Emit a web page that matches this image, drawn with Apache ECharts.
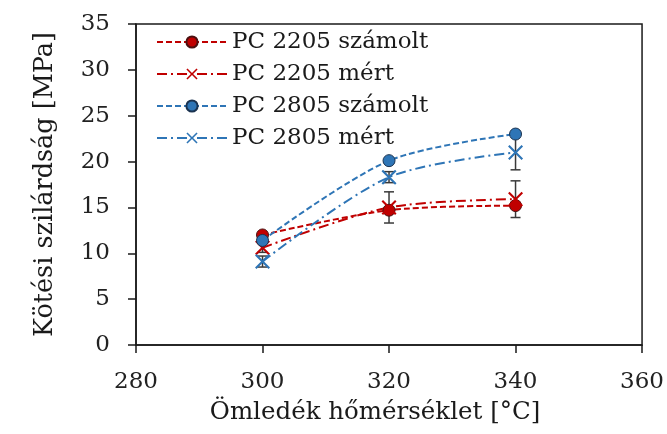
<!DOCTYPE html>
<html>
<head>
<meta charset="utf-8">
<script src="https://cdn.jsdelivr.net/npm/echarts@6/dist/echarts.min.js"></script>
<style>html,body{margin:0;padding:0;background:#fff}#c{width:667px;height:434px}</style>
</head>
<body>
<div id="c"></div>
<script>
const temps = [300, 320, 340];
const pc2205Szamolt = [12.0, 14.7, 15.2];
const pc2205Mert = [10.6, 15.0, 15.9];
const pc2205MertErr = [0.5, 1.7, 2.0];
const pc2805Szamolt = [11.4, 20.1, 23.0];
const pc2805Mert = [9.1, 18.3, 21.0];
const pc2805MertErr = [0.6, 0.6, 1.9];
const seriesNames = ['PC 2205 számolt', 'PC 2205 mért', 'PC 2805 számolt', 'PC 2805 mért'];
const xTicks = [280, 300, 320, 340, 360];
const yTicks = [0, 5, 10, 15, 20, 25, 30, 35];

const RED = '#C00000';
const BLUE = '#2E75B6';
const FONT = 'DejaVu Serif';
const XPATH = 'path://M1,0 L5,4 L9,0 L10,1 L6,5 L10,9 L9,10 L5,6 L1,10 L0,9 L4,5 L0,1 Z';

function pairs(ys) { return temps.map((t, i) => [t, ys[i]]); }
function errData(ys, es) { return temps.map((t, i) => [t, ys[i] - es[i], ys[i] + es[i]]); }

function errRender(params, api) {
  const x = api.value(0), lo = api.value(1), hi = api.value(2);
  const pt = api.coord([x, hi]), pb = api.coord([x, lo]);
  const w = 5;
  const st = { stroke: '#3a3a3a', lineWidth: 1.5 };
  return {
    type: 'group',
    children: [
      { type: 'line', shape: { x1: pt[0], y1: pt[1], x2: pb[0], y2: pb[1] }, style: st },
      { type: 'line', shape: { x1: pt[0] - w, y1: pt[1], x2: pt[0] + w, y2: pt[1] }, style: st },
      { type: 'line', shape: { x1: pb[0] - w, y1: pb[1], x2: pb[0] + w, y2: pb[1] }, style: st }
    ]
  };
}

const chart = echarts.init(document.getElementById('c'), null, { renderer: 'canvas' });
chart.setOption({
  animation: false,
  backgroundColor: '#fff',
  textStyle: { fontFamily: FONT },
  grid: { left: 136, right: 23, top: 24, bottom: 89, show: true, borderColor: '#1a1a1a', borderWidth: 1.5, backgroundColor: 'transparent' },
  legend: {
    orient: 'vertical',
    left: 151,
    top: 25,
    itemWidth: 70,
    itemHeight: 14,
    itemGap: 8,
    data: seriesNames,
    textStyle: { fontFamily: FONT, fontSize: 23, color: '#1a1a1a', lineHeight: 24 }
  },
  xAxis: {
    type: 'value', min: xTicks[0], max: xTicks[xTicks.length - 1], interval: 20,
    name: 'Ömledék hőmérséklet [°C]', nameLocation: 'middle', nameGap: 55,
    nameTextStyle: { fontFamily: FONT, fontSize: 24.5, color: '#1a1a1a', padding: [0, 28, 0, 0] },
    axisLine: { lineStyle: { color: '#1a1a1a', width: 1.5 } },
    axisTick: { show: true, inside: false, length: 8, lineStyle: { color: '#1a1a1a', width: 1.5 } },
    axisLabel: { fontFamily: FONT, fontSize: 23, color: '#222', margin: 26 },
    splitLine: { show: false }
  },
  yAxis: {
    type: 'value', min: yTicks[0], max: yTicks[yTicks.length - 1], interval: 5,
    name: 'Kötési szilárdság [MPa]', nameLocation: 'middle', nameGap: 78,
    nameTextStyle: { fontFamily: FONT, fontSize: 25.5, color: '#1a1a1a' },
    axisLine: { lineStyle: { color: '#1a1a1a', width: 1.5 } },
    axisTick: { show: true, inside: false, length: 8, lineStyle: { color: '#1a1a1a', width: 1.5 } },
    axisLabel: { fontFamily: FONT, fontSize: 23, color: '#222', margin: 26 },
    splitLine: { show: false }
  },
  series: [
    { type: 'custom', name: 'err2205', renderItem: errRender, data: errData(pc2205Mert, pc2205MertErr), z: 1, silent: true },
    { type: 'custom', name: 'err2805', renderItem: errRender, data: errData(pc2805Mert, pc2805MertErr), z: 1, silent: true },
    {
      name: seriesNames[0], type: 'line', data: pairs(pc2205Szamolt), smooth: 0.3, z: 3,
      symbol: 'circle', symbolSize: 12,
      lineStyle: { color: RED, width: 2, type: [6, 3] },
      itemStyle: { color: RED, borderColor: '#4a1010', borderWidth: 1 }
    },
    {
      name: seriesNames[1], type: 'line', data: pairs(pc2205Mert), smooth: 0.3, z: 3,
      symbol: XPATH, symbolSize: 15,
      lineStyle: { color: RED, width: 2, type: [10, 4, 2, 4] },
      itemStyle: { color: RED }
    },
    {
      name: seriesNames[2], type: 'line', data: pairs(pc2805Szamolt), smooth: 0.3, z: 3,
      symbol: 'circle', symbolSize: 12,
      lineStyle: { color: BLUE, width: 2, type: [6, 3] },
      itemStyle: { color: BLUE, borderColor: '#1b3350', borderWidth: 1 }
    },
    {
      name: seriesNames[3], type: 'line', data: pairs(pc2805Mert), smooth: 0.3, z: 3,
      symbol: XPATH, symbolSize: 15,
      lineStyle: { color: BLUE, width: 2, type: [10, 4, 2, 4] },
      itemStyle: { color: BLUE }
    }
  ]
});
</script>
</body>
</html>
